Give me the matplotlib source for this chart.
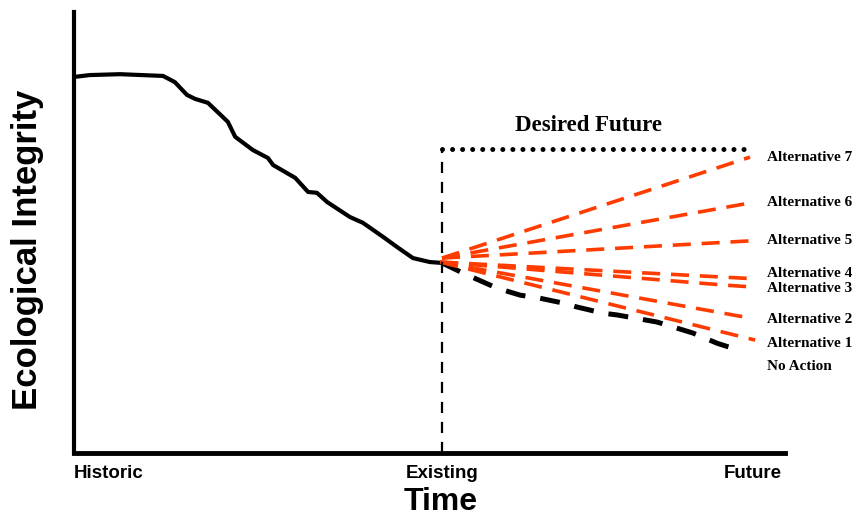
import numpy as np
import matplotlib
matplotlib.use('Agg')
import matplotlib.pyplot as plt

# time: Historic = 0, Existing = 100 ; integrity 0-100
hist_t = [0.3, 4.3, 12.5, 24.2, 27.4, 30.7, 32.9, 36.4, 41.8, 43.8, 48.6, 52.7, 54.1,
          60.1, 63.6, 66.0, 68.8, 75.0, 78.5, 84.0, 87.8, 92.1, 96.7, 100.0]
hist_v = [85.3, 85.7, 85.9, 85.5, 84.1, 81.2, 80.3, 79.4, 75.1, 71.7, 68.7, 66.9, 65.3,
          62.4, 59.2, 59.0, 56.9, 53.5, 52.2, 49.0, 46.7, 44.2, 43.3, 43.1]

noact_t = [100.0, 105.7, 114.9, 121.2, 126.6, 132.9, 136.7, 143.8, 147.6, 158.4, 163.9,
           168.2, 174.7, 178.8]
noact_v = [43.1, 40.8, 37.4, 35.8, 35.1, 34.0, 33.1, 31.7, 31.3, 29.7, 28.3, 27.2, 24.9, 23.8]

alt_names = ['Alternative 7', 'Alternative 6', 'Alternative 5', 'Alternative 4',
             'Alternative 3', 'Alternative 2', 'Alternative 1']
alt_t = [[100.0, 183.7], [100.0, 183.7], [100.0, 183.7], [99.5, 185.1],
         [99.5, 176.4, 185.1], [99.5, 183.7], [99.5, 185.1]]
alt_v = [[44.2, 67.1], [44.2, 56.7], [44.2, 48.1], [43.3, 39.5],
         [43.3, 38.1, 37.6], [43.3, 30.6], [43.3, 25.6]]
label_v = [67.1, 56.7, 48.1, 40.6, 37.2, 30.2, 24.9, 19.7]

desired_v = 68.9
desired_t = [100.0, 182.3]
existing_t = 100.0

fig = plt.figure(figsize=(8.56, 5.17), dpi=100)
ax = fig.add_axes([74/856, 64/517, 711/856, 441/517])
ax.set_xlim(0, 193.2)
ax.set_ylim(0, 100)
for s in ['top', 'right']:
    ax.spines[s].set_visible(False)
ax.spines['left'].set_linewidth(3)
ax.spines['bottom'].set_linewidth(3.5)
ax.set_yticks([])
ax.set_xticks([0, existing_t, 192.3])
ax.set_xticklabels(['Historic', 'Existing', 'Future'], fontsize=13.5,
                   fontweight='bold', family='Liberation Sans')
for lab, ha in zip(ax.get_xticklabels(), ['left', 'center', 'right']):
    lab.set_ha(ha)
ax.tick_params(axis='x', length=0, pad=9)

red = '#ff3c00'
ax.plot(hist_t, hist_v, color='black', lw=3, solid_capstyle='round', solid_joinstyle='round')
ax.plot(noact_t, noact_v, color='black', lw=3.6, dashes=(4, 3))
for t, v in zip(alt_t, alt_v):
    ax.plot(t, v, color=red, lw=2.6, dashes=(5, 3))

ax.plot([existing_t, existing_t], [0, desired_v], color='black', lw=1.6, dashes=(5, 4))
ax.plot(desired_t, [desired_v, desired_v], color='black', lw=3.6, dashes=(0.01, 2.0),
        dash_capstyle='round')
ax.text(139.7, 74.3, 'Desired Future', ha='center', va='center', fontsize=16.5,
        fontweight='bold', family='Liberation Serif')

for name, v in zip(alt_names + ['No Action'], label_v):
    ax.text(188.3, v, name, ha='left', va='center', fontsize=11, fontweight='bold',
            family='Liberation Serif', clip_on=False)

fig.text(28/856, 1 - 250/517, 'Ecological Integrity', rotation=90, ha='center', va='center',
         fontsize=25, fontweight='bold', family='Liberation Sans')
fig.text(441/856, 1 - 502/517, 'Time', ha='center', va='center',
         fontsize=23, fontweight='bold', family='Liberation Sans')

fig.savefig('out.png', dpi=100)
